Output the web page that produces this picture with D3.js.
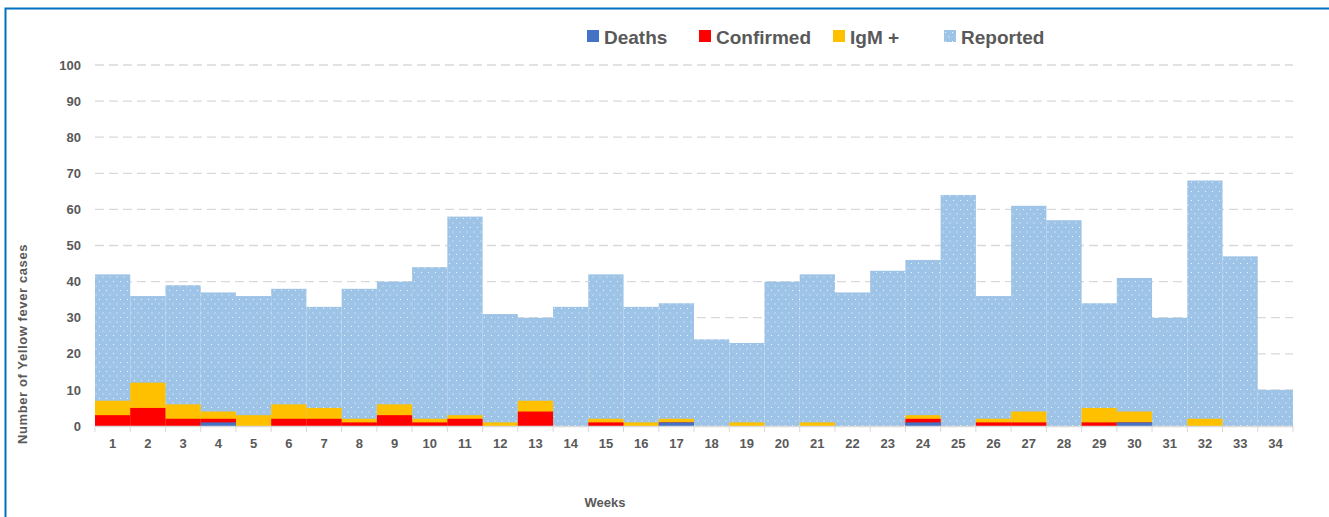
<!DOCTYPE html>
<html lang="en">
<head>
<meta charset="UTF-8">
<title>Yellow fever cases by week</title>
<script src="https://d3js.org/d3.v7.min.js"></script>
<style>
    body { margin: 0; background: #fff; }
    svg { display: block; font-family: "Liberation Sans", Arial, sans-serif; }
    .axis text { font-size: 13px; font-weight: bold; fill: #595959; }
    .axis path, .axis line { stroke: #d9d9d9; }
</style>
</head>
<body>
<script>
// data
var weeks = d3.range(1, 35);
var reported  = [42,36,39,37,36,38,33,38,40,44,58,31,30,33,42,33,34,24,23,40,42,37,43,46,64,36,61,57,34,41,30,68,47,10];
var igm       = [7,12,6,4,3,6,5,2,6,2,3,1,7,0,2,1,2,0,1,0,1,0,0,3,0,2,4,0,5,4,0,2,0,0];
var confirmed = [3,5,2,2,0,2,2,1,3,1,2,0,4,0,1,0,1,0,0,0,0,0,0,2,0,1,1,0,1,1,0,0,0,0];
var deaths    = [0,0,0,1,0,0,0,0,0,0,0,0,0,0,0,0,1,0,0,0,0,0,0,1,0,0,0,0,0,1,0,0,0,0];
var yTicks = d3.range(0, 101, 10);

// drawn back to front
var series = [
    {name: "Reported",  values: reported,  color: "url(#dots)"},
    {name: "IgM +",     values: igm,       color: "#ffc000"},
    {name: "Confirmed", values: confirmed, color: "#ff0000"},
    {name: "Deaths",    values: deaths,    color: "#4472c4"}
];
var legendOrder = ["Deaths", "Confirmed", "IgM +", "Reported"];

var w = 1329, h = 517;
var padL = 95, padR = 1293, padT = 65, padB = 426;

var svg = d3.select("body").append("svg").attr("width", w).attr("height", h);

// dotted fill like the excel pattern
var pat = svg.append("defs").append("pattern")
    .attr("id", "dots").attr("patternUnits", "userSpaceOnUse")
    .attr("width", 7).attr("height", 9);
pat.append("rect").attr("width", 7).attr("height", 9).attr("fill", "#9dc3e6");
pat.append("rect").attr("x", 1).attr("y", 2).attr("width", 1).attr("height", 1).attr("fill", "#fff").attr("opacity", 0.85);
pat.append("rect").attr("x", 4.5).attr("y", 6.5).attr("width", 1).attr("height", 1).attr("fill", "#fff").attr("opacity", 0.85);

// frame border (top + left)
svg.append("path")
    .attr("d", "M5.5," + h + "V8.5H" + w)
    .attr("fill", "none").attr("stroke", "#0070c0").attr("stroke-width", 2);

var x = d3.scaleBand().domain(weeks).range([padL, padR]).padding(0);
var y = d3.scaleLinear().domain([0, 100]).range([padB, padT]);

// gridlines
svg.append("g").selectAll("line")
    .data(yTicks.filter(d => d > 0))
    .join("line")
    .attr("x1", padL).attr("x2", padR)
    .attr("y1", d => y(d)).attr("y2", d => y(d))
    .attr("stroke", "#d9d9d9").attr("stroke-width", 1.3)
    .attr("stroke-dasharray", "9,5");

// bars, overlapped
series.forEach(function(s) {
    svg.append("g").selectAll("rect")
        .data(s.values.map((v, i) => ({week: weeks[i], v: v})).filter(d => d.v > 0))
        .join("rect")
        .attr("x", d => x(d.week))
        .attr("width", x.bandwidth())
        .attr("y", d => y(d.v))
        .attr("height", d => y(0) - y(d.v))
        .attr("fill", s.color);
});

// x axis
var xAxis = svg.append("g").attr("class", "axis")
    .attr("transform", "translate(0," + padB + ")")
    .call(d3.axisBottom(x).tickSize(0).tickPadding(13));
xAxis.select(".domain").attr("stroke", "#d9d9d9").attr("stroke-width", 1.5);
xAxis.selectAll(".bnd").data(d3.range(0, 35)).join("line")
    .attr("x1", i => padL + i * x.bandwidth()).attr("x2", i => padL + i * x.bandwidth())
    .attr("y1", 0).attr("y2", 6).attr("stroke", "#d9d9d9");

// y axis (labels only)
var yAxis = svg.append("g").attr("class", "axis")
    .attr("transform", "translate(" + (padL - 14) + ",0)")
    .call(d3.axisLeft(y).tickValues(yTicks).tickSize(0).tickPadding(0));
yAxis.select(".domain").remove();

// axis titles
svg.append("text")
    .attr("transform", "translate(27,344) rotate(-90)")
    .attr("text-anchor", "middle")
    .attr("font-size", 13).attr("font-weight", "bold").attr("fill", "#595959")
    .attr("letter-spacing", 0.6)
    .text("Number of Yellow fever cases");
svg.append("text")
    .attr("x", 605).attr("y", 507).attr("text-anchor", "middle")
    .attr("font-size", 13).attr("font-weight", "bold").attr("fill", "#595959")
    .text("Weeks");

// legend
var legendX = [587, 699, 833, 944];
var lg = svg.append("g").selectAll("g")
    .data(legendOrder)
    .join("g")
    .attr("transform", (d, i) => "translate(" + legendX[i] + ",30)");
lg.append("rect").attr("width", 12).attr("height", 12)
    .attr("fill", d => series.find(s => s.name === d).color);
lg.append("text").attr("x", 17).attr("y", 14)
    .attr("font-size", 19).attr("font-weight", "bold").attr("fill", "#595959")
    .text(d => d);
</script>
</body>
</html>
